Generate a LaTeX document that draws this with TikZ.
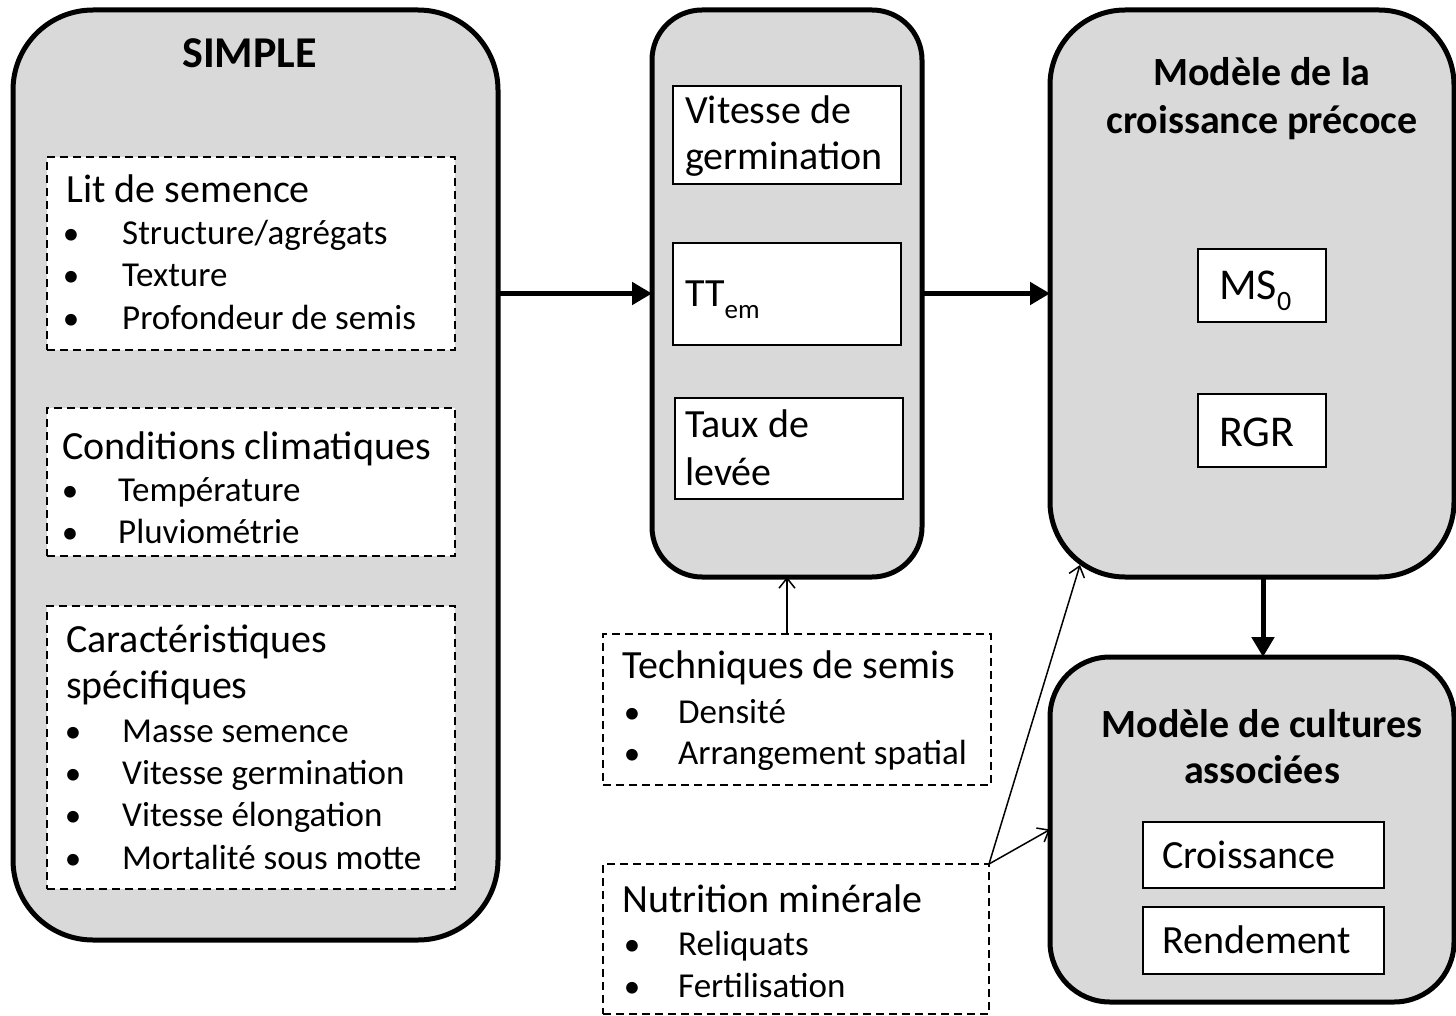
\documentclass[tikz,border=0pt]{standalone}
\usepackage{fontspec}
\setmainfont{Carlito}
\usetikzlibrary{arrows.meta,calc}
\definecolor{boxgray}{RGB}{217,217,217}
\newcommand{\fs}[1]{\fontsize{#1}{#1}\selectfont}
\newcommand{\sbs}[2][27]{\raisebox{-12pt}{\fs{#1}#2}}
\newcommand{\cornerbox}[6]{\node[#1, minimum width={#5-#3}, minimum height={#6-#4}] (#2) at ({(#3+#5)/2},{(#4+#6)/2}) {};}
\begin{document}
\begin{tikzpicture}[x=1pt,y=-1pt,
 mainbox/.style={draw=black, line width=5pt, fill=boxgray, rounded corners=#1, inner sep=0, outer sep=0},
 dashbox/.style={draw=black, line width=2pt, dash pattern=on 8pt off 5pt, fill=white, inner sep=0, outer sep=0},
 solidbox/.style={draw=black, line width=2pt, fill=white, inner sep=0, outer sep=0},
 hdr/.style={anchor=base west, inner sep=0, font=\fs{40}},
 item/.style={anchor=base west, inner sep=0, font=\fs{35}},
 bul/.style={anchor=base, inner sep=0, font=\fs{33}},
 ttl/.style={anchor=base, inner sep=0, font=\bfseries\fs{40}},
 big/.style={-{Triangle[length=20pt,width=22pt]}, line width=5pt},
 thin/.style={-{Straight Barb[length=10pt,width=16pt]}, line width=1.5pt}
]
\useasboundingbox (0,0) rectangle (1456,1016);
% main boxes
\cornerbox{mainbox=80pt}{simple}{13}{10}{498}{940}
\cornerbox{mainbox=50pt}{mid}{652}{10}{922}{577}
\cornerbox{mainbox=75pt}{crois}{1050}{10}{1454}{577}
\cornerbox{mainbox=60pt}{assoc}{1050}{657}{1454}{1002}
% dashed boxes
\cornerbox{dashbox}{lit}{47}{157}{455}{350}
\cornerbox{dashbox}{clim}{47}{408}{455}{556}
\cornerbox{dashbox}{carac}{47}{606}{455}{889}
\cornerbox{dashbox}{tech}{603}{634}{991}{785}
\cornerbox{dashbox}{nutri}{603}{864}{989}{1014}
% solid inner boxes
\cornerbox{solidbox}{vit}{673}{86}{901}{184}
\cornerbox{solidbox}{tt}{673}{243}{901}{345}
\cornerbox{solidbox}{taux}{675}{398}{903}{499}
\cornerbox{solidbox}{ms}{1198}{249}{1326}{322}
\cornerbox{solidbox}{rgr}{1198}{394}{1326}{467}
\cornerbox{solidbox}{croi}{1143}{822}{1384}{888}
\cornerbox{solidbox}{rend}{1143}{907}{1384}{974}
% titles
\node[ttl, font=\bfseries\fs{44}] (tsimple) at (249.5,68) {SIMPLE};
\node[ttl] (tcr1) at (1262,86) {Modèle de la};
\node[ttl] (tcr2) at (1262,134) {croissance précoce};
\node[ttl] (tas1) at (1262,737) {Modèle de cultures};
\node[ttl] (tas2) at (1262,783) {associées};
% lit de semence
\node[hdr] (h1) at (66,203) {Lit de semence};
\node[bul] (b11) at (71,245) {•}; \node[item] (i11) at (122,245) {Structure/agrégats};
\node[bul] (b12) at (71,287) {•}; \node[item] (i12) at (122,287) {Texture};
\node[bul] (b13) at (71,329) {•}; \node[item] (i13) at (122,329) {Profondeur de semis};
% conditions climatiques
\node[hdr] (h2) at (62,459) {Conditions climatiques};
\node[bul] (b21) at (70,501) {•}; \node[item] (i21) at (118,501) {Température};
\node[bul] (b22) at (70,543) {•}; \node[item] (i22) at (118,543) {Pluviométrie};
% caracteristiques
\node[hdr] (h3a) at (66,652) {Caractéristiques};
\node[hdr] (h3b) at (66,698) {spécifiques};
\node[bul] (b31) at (73,742) {•}; \node[item] (i31) at (122,742) {Masse semence};
\node[bul] (b32) at (73,784) {•}; \node[item] (i32) at (122,784) {Vitesse germination};
\node[bul] (b33) at (73,826) {•}; \node[item] (i33) at (122,826) {Vitesse élongation};
\node[bul] (b34) at (73,869) {•}; \node[item] (i34) at (122,869) {Mortalité sous motte};
% middle
\node[hdr] (v1) at (685,124) {Vitesse de};
\node[hdr] (v2) at (685,170) {germination};
\node[hdr] (t1) at (685,306) {TT\sbs{em}};
\node[hdr] (l1) at (685,437) {Taux de};
\node[hdr] (l2) at (685,485) {levée};
% right
\node[hdr, font=\fs{44}] (m1) at (1219,299) {MS\sbs[28]{0}};
\node[hdr, font=\fs{44}] (r1) at (1219,446) {RGR};
\node[hdr] (c1) at (1162,868) {Croissance};
\node[hdr] (c2) at (1162,953) {Rendement};
% techniques
\node[hdr] (h4) at (622,678) {Techniques de semis};
\node[bul] (b41) at (632,723) {•}; \node[item] (i41) at (678,723) {Densité};
\node[bul] (b42) at (632,764) {•}; \node[item] (i42) at (678,764) {Arrangement spatial};
% nutrition
\node[hdr] (h5) at (622,912) {Nutrition minérale};
\node[bul] (b51) at (632,955) {•}; \node[item] (i51) at (678,955) {Reliquats};
\node[bul] (b52) at (632,997) {•}; \node[item] (i52) at (678,997) {Fertilisation};
% connectors
\coordinate (dx) at (1263,0);
\draw[big] (simple.east |- mid.west) -- (mid.west);
\draw[big] (mid.east) -- (crois.west);
\draw[big] (crois.south -| dx) -- (assoc.north -| dx);
\draw[thin] (tech.north -| mid.south) -- (mid.south);
\draw[thin] (nutri.north east) -- ($(crois.south west)+(30,-12)$);
\draw[thin] (nutri.north east) -- (assoc.west);
\end{tikzpicture}
\end{document}
